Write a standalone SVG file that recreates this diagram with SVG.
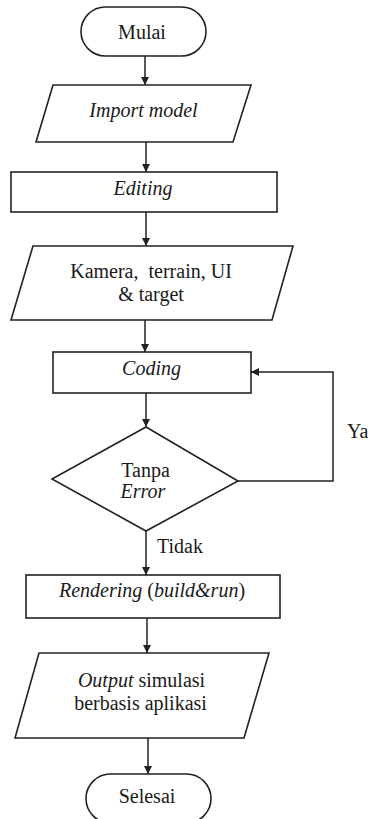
<svg xmlns="http://www.w3.org/2000/svg" width="370" height="819" viewBox="0 0 370 819">
  <defs>
    <marker id="arrow" viewBox="0 0 10 10" refX="10" refY="5" markerWidth="8" markerHeight="8" markerUnits="userSpaceOnUse" orient="auto">
      <path d="M0,0 L10,5 L0,10 Z" fill="#222222"/>
    </marker>
  </defs>
  <rect width="370" height="819" fill="#ffffff"/>

  <!-- connectors: straight flow arrows plus the "Ya" loop back to Coding -->
  <g id="connectors" fill="none" stroke="#222222" stroke-width="1.5">
    <line x1="145" y1="56" x2="145" y2="85" marker-end="url(#arrow)"/>
    <line x1="146" y1="142" x2="146" y2="172" marker-end="url(#arrow)"/>
    <line x1="146" y1="212" x2="146" y2="246" marker-end="url(#arrow)"/>
    <line x1="145" y1="320" x2="145" y2="352" marker-end="url(#arrow)"/>
    <line x1="146" y1="393" x2="146" y2="427" marker-end="url(#arrow)"/>
    <line x1="146" y1="531" x2="146" y2="575" marker-end="url(#arrow)"/>
    <line x1="147" y1="618" x2="147" y2="653" marker-end="url(#arrow)"/>
    <line x1="148" y1="738" x2="148" y2="774" marker-end="url(#arrow)"/>
    <polyline points="238,481 333,481 333,372 251,372" marker-end="url(#arrow)"/>
  </g>
  <g id="connector-labels">
    <text x="157" y="553" font-family="Liberation Serif" font-size="20" fill="#1a1a1a">Tidak</text>
    <text x="347" y="438" font-family="Liberation Serif" font-size="20" fill="#1a1a1a">Ya</text>
  </g>

  <g id="mulai">
    <rect x="81" y="7" width="125" height="49" rx="24.5" ry="24.5" fill="#ffffff" stroke="#222222" stroke-width="1.6"/>
    <text x="142" y="39" text-anchor="middle" font-family="Liberation Serif" font-size="20" fill="#1a1a1a">Mulai</text>
  </g>

  <g id="import-model">
    <polygon points="53,85 251,85 233,142 36,142" fill="#ffffff" stroke="#222222" stroke-width="1.6"/>
    <text x="143.5" y="117" text-anchor="middle" font-style="italic" font-family="Liberation Serif" font-size="20" fill="#1a1a1a">Import model</text>
  </g>

  <g id="editing">
    <rect x="11" y="172" width="266" height="40" fill="#ffffff" stroke="#222222" stroke-width="1.6"/>
    <text x="143" y="195" text-anchor="middle" font-style="italic" font-family="Liberation Serif" font-size="20" fill="#1a1a1a">Editing</text>
  </g>

  <g id="kamera">
    <polygon points="33,246 293,246 272,320 11,320" fill="#ffffff" stroke="#222222" stroke-width="1.6"/>
    <text x="151" y="278" text-anchor="middle" font-family="Liberation Serif" font-size="20" fill="#1a1a1a" xml:space="preserve">Kamera,  terrain, UI</text>
    <text x="151" y="301" text-anchor="middle" font-family="Liberation Serif" font-size="20" fill="#1a1a1a">&amp; target</text>
  </g>

  <g id="coding">
    <rect x="53" y="352" width="198" height="41" fill="#ffffff" stroke="#222222" stroke-width="1.6"/>
    <text x="151.5" y="375" text-anchor="middle" font-style="italic" font-family="Liberation Serif" font-size="20" fill="#1a1a1a">Coding</text>
  </g>

  <g id="tanpa-error">
    <polygon points="146,427 238,481 146,531 52,479" fill="#ffffff" stroke="#222222" stroke-width="1.6"/>
    <text x="145.5" y="477" text-anchor="middle" font-family="Liberation Serif" font-size="20" fill="#1a1a1a">Tanpa</text>
    <text x="143" y="498" text-anchor="middle" font-style="italic" font-family="Liberation Serif" font-size="20" fill="#1a1a1a">Error</text>
  </g>

  <g id="rendering">
    <rect x="26" y="575" width="254" height="43" fill="#ffffff" stroke="#222222" stroke-width="1.6"/>
    <text x="152" y="597" text-anchor="middle" font-family="Liberation Serif" font-size="20" fill="#1a1a1a"><tspan font-style="italic">Rendering</tspan> (<tspan font-style="italic">build&amp;run</tspan>)</text>
  </g>

  <g id="output">
    <polygon points="39,653 269,653 244,738 15,738" fill="#ffffff" stroke="#222222" stroke-width="1.6"/>
    <text x="141.5" y="687" text-anchor="middle" font-family="Liberation Serif" font-size="20" fill="#1a1a1a"><tspan font-style="italic">Output</tspan> simulasi</text>
    <text x="140.5" y="710" text-anchor="middle" font-family="Liberation Serif" font-size="20" fill="#1a1a1a">berbasis aplikasi</text>
  </g>

  <g id="selesai">
    <rect x="86" y="774" width="125" height="49" rx="24.5" ry="24.5" fill="#ffffff" stroke="#222222" stroke-width="1.6"/>
    <text x="147" y="803" text-anchor="middle" font-family="Liberation Serif" font-size="20" fill="#1a1a1a">Selesai</text>
  </g>
</svg>
